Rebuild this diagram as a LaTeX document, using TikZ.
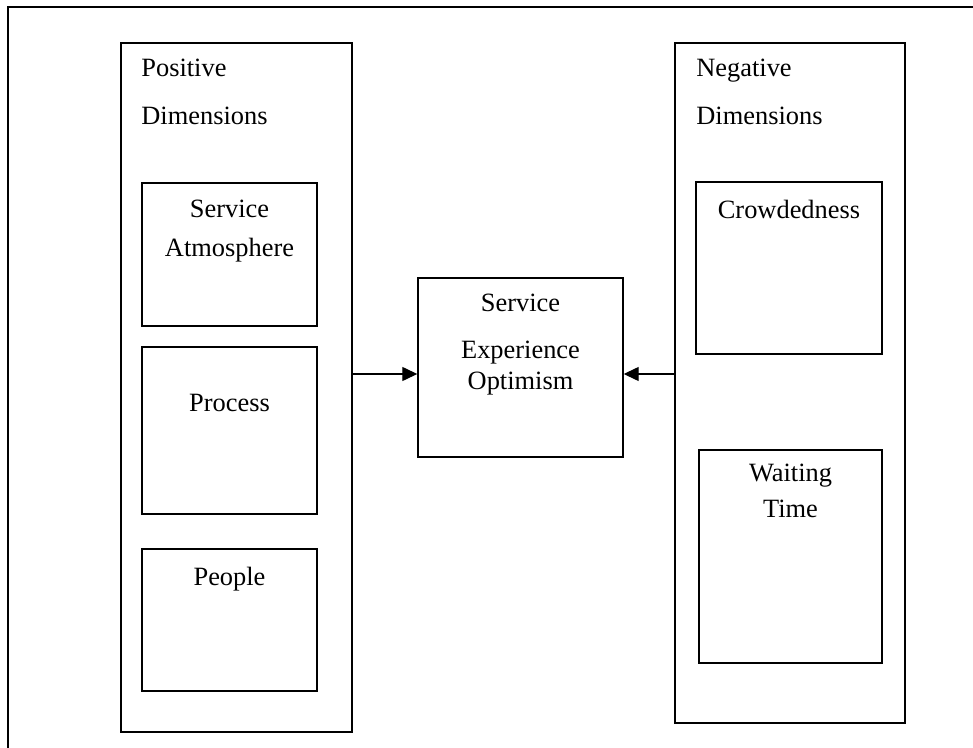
\documentclass[tikz,border=0pt]{standalone}
\usepackage{fontspec}
\setmainfont{Liberation Serif}
\usepackage{tikz}
\usetikzlibrary{positioning, arrows.meta, calc}

\begin{document}
\begin{tikzpicture}[x=0.5pt, y=-0.5pt,
  box/.style={draw, line width=0.7pt, inner sep=0pt},
  lbl/.style={inner sep=0pt, anchor=base, font=\fontsize{13.2}{16}\selectfont},
  arr/.style={-{Triangle[length=7.5pt, width=7pt]}, line width=0.65pt}]
\useasboundingbox (0,0) rectangle (973,748);
% frame edges
\draw[line width=1pt] (973,7) -- (8,7) -- (8,748);
% positive side
\node[box, minimum width=115.5pt, minimum height=344.5pt] (pos) at (236.5,387.5) {};
\node[lbl, anchor=base west] (pos1) at (141,77) {Positive};
\node[lbl, anchor=base west] (pos2) at (141,125) {Dimensions};
\node[box, minimum width=87.5pt, minimum height=71.5pt] (atm) at (229.5,254.5) {};
\node[lbl] (atm1) at (229.5,218) {Service};
\node[lbl] (atm2) at (229.5,257) {Atmosphere};
\node[box, minimum width=87.5pt, minimum height=83.5pt] (proc) at (229.5,430.5) {};
\node[lbl] (proc1) at (229.5,411) {Process};
\node[box, minimum width=87.5pt, minimum height=71pt] (ppl) at (229.5,620) {};
\node[lbl] (ppl1) at (229.5,585) {People};
% outcome
\node[box, minimum width=102.5pt, minimum height=89.5pt] (seo) at (520.5,367.5) {};
\node[lbl] (seo1) at (520.5,312) {Service};
\node[lbl] (seo2) at (520.5,358) {Experience};
\node[lbl] (seo3) at (520.5,389) {Optimism};
% negative side
\node[box, minimum width=115pt, minimum height=340pt] (neg) at (790,383) {};
\node[lbl, anchor=base west] (neg1) at (696,77) {Negative};
\node[lbl, anchor=base west] (neg2) at (696,125) {Dimensions};
\node[box, minimum width=93pt, minimum height=86pt] (crowd) at (789,268) {};
\node[lbl] (crowd1) at (789,219) {Crowdedness};
\node[box, minimum width=91.5pt, minimum height=106.5pt] (wait) at (790.5,556.5) {};
\node[lbl] (wait1) at (790.5,481) {Waiting};
\node[lbl] (wait2) at (790.5,517) {Time};
% links
\coordinate (mid) at (0,374);
\draw[arr] (pos.east |- mid) -- (seo.west |- mid);
\draw[arr] (neg.west |- mid) -- (seo.east |- mid);
\end{tikzpicture}
\end{document}
